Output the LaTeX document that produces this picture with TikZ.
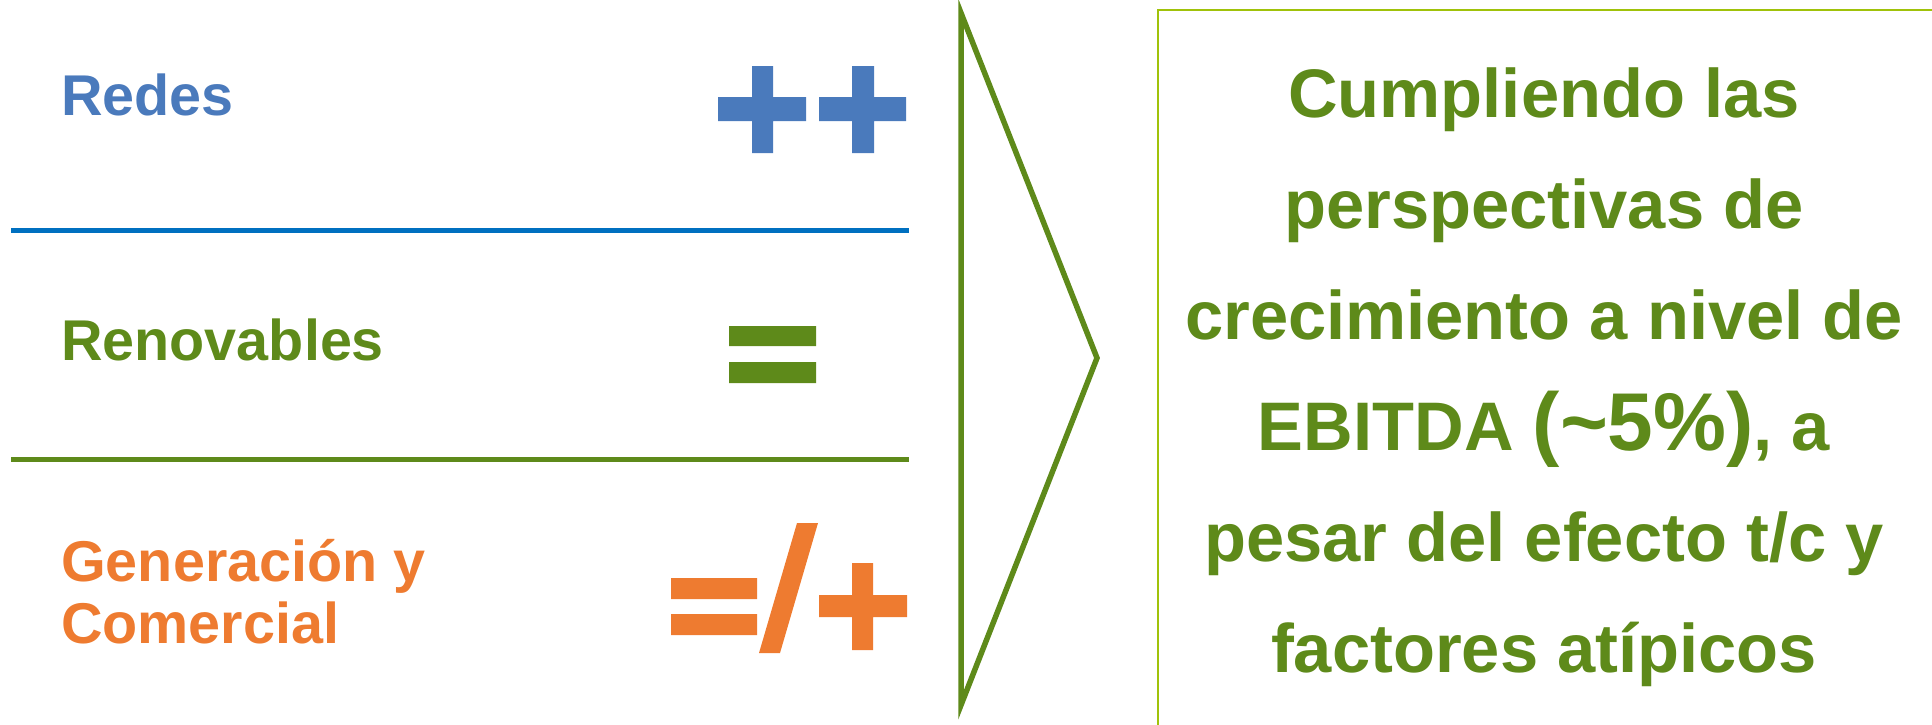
\documentclass[tikz,border=0pt]{standalone}
\usepackage{fontspec}
\setmainfont{Liberation Sans}
\newfontfamily\heavyfont{Liberation Sans Bold}
\definecolor{redesblue}{HTML}{4A7ABC}
\definecolor{lineblue}{HTML}{0070C0}
\definecolor{olive}{HTML}{5E8A1A}
\definecolor{orangeg}{HTML}{EE7B30}
\definecolor{lime}{HTML}{A0C20A}
\tikzset{
  label/.style={anchor=base west, inner sep=0pt, font=\bfseries\fontsize{57.5}{62}\selectfont},
  sep/.style={line width=5pt},
  bigtext/.style={align=center, inner sep=0pt, text=olive,
    font=\bfseries\fontsize{68.7}{111}\selectfont}
}
\newcommand{\bigger}[1]{{\heavyfont\fontsize{82}{111}\selectfont #1}}
\begin{document}
\begin{tikzpicture}[x=1pt, y=-1pt]
  \useasboundingbox (0,0) rectangle (1932,724);

  % segment labels (a multi-line node sits on its last baseline)
  \node[label, text=redesblue] (redes) at (61,115) {Redes};
  \node[label, text=olive] (renov) at (61,360) {Renovables};
  \node[label, text=orangeg, align=left] (gen) at (61,643) {Generación y\\Comercial};

  % separators
  \draw[sep, lineblue] (11,230) -- (909,230);
  \draw[sep, olive] (11,459) -- (909,459);

  % ++
  \fill[redesblue] (718,97) rectangle (806,121) (752,66) rectangle (773,153);
  \fill[redesblue] (819,97) rectangle (906,121) (852,66) rectangle (874,153);

  % =
  \fill[olive] (729,326) rectangle (816,346) (729,362) rectangle (816,383);

  % =/+
  \fill[orangeg] (671,578) rectangle (757,599) (671,614) rectangle (757,635);
  \fill[orangeg] (797,523) -- (818,523) -- (780,653) -- (759,653) -- cycle;
  \fill[orangeg] (819,595) rectangle (907,617) (852,563) rectangle (873,650);

  % chevron
  \draw[olive, line width=5.5pt, miter limit=10] (961,13) -- (1097,358) -- (961,705) -- cycle;

  % conclusion box
  \draw[lime, line width=2.5pt] (1158,740) -- (1158,10) -- (1945,10);
  \node[bigtext] (concl) at (1544,377) {Cumpliendo las\\perspectivas de\\crecimiento a nivel de\\EBITDA \bigger{({\char"7E}5\%)}, a\\pesar del efecto t/c y\\factores atípicos};
\end{tikzpicture}
\end{document}
